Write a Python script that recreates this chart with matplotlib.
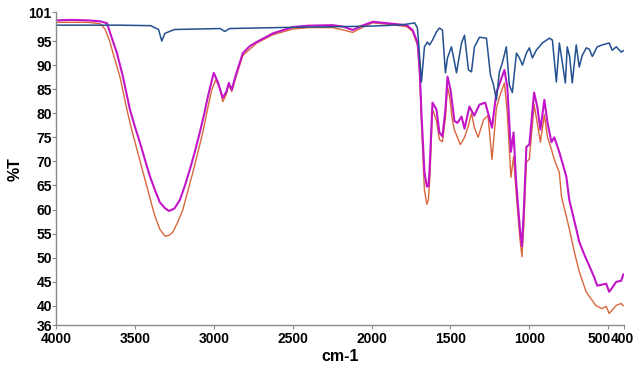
import matplotlib
matplotlib.use("Agg")
import matplotlib.pyplot as plt
import matplotlib.transforms as mtransforms

# FTIR spectra (wavenumber cm-1, %T)
blue_wn = [4000, 3800, 3600, 3400, 3350, 3330, 3310, 3250, 3100, 2960, 2930, 2900,
           2600, 2400, 2000, 1800, 1740, 1728, 1710, 1703, 1684, 1665, 1646, 1633,
           1614, 1589, 1570, 1551, 1532, 1519, 1494, 1475, 1462, 1430, 1411, 1386,
           1367, 1348, 1316, 1272, 1247, 1228, 1209, 1190, 1171, 1146, 1127, 1108,
           1082, 1063, 1044, 1019, 1000, 981, 956, 918, 873, 854, 829, 810, 791,
           772, 760, 745, 728, 703, 684, 665, 639, 620, 601, 570, 538, 494, 475,
           449, 418, 405]
blue_t = [98.3, 98.3, 98.3, 98.2, 97.4, 95.0, 96.6, 97.4, 97.5, 97.6, 97.0, 97.6,
          97.8, 97.9, 98.1, 98.4, 98.7, 98.8, 97.8, 95.0, 86.5, 93.8, 94.8, 94.2,
          95.2, 96.9, 97.7, 97.3, 88.4, 91.5, 93.8, 90.7, 88.4, 94.6, 96.2, 89.0,
          88.6, 93.8, 95.8, 95.6, 88.0, 86.0, 82.8, 88.6, 90.5, 93.8, 85.9, 84.3,
          92.5, 91.5, 90.0, 92.5, 93.6, 91.5, 93.1, 94.6, 95.6, 95.2, 86.5, 94.6, 90.5,
          86.3, 93.8, 91.8, 86.3, 94.2, 89.6, 92.0, 93.6, 93.3, 91.8, 93.8, 94.2, 94.6, 93.1,
          93.8, 92.7, 93.0]

magenta_wn = [4000, 3900, 3800, 3720, 3677, 3650, 3614, 3576, 3532, 3500, 3468, 3435,
              3405, 3370, 3342, 3310, 3285, 3250, 3215, 3185, 3152, 3120, 3089, 3060,
              3038, 3015, 3000, 2975, 2943, 2920, 2905, 2886, 2860, 2816, 2770, 2728,
              2626, 2500, 2400, 2247, 2180, 2120, 2060, 1993, 1900, 1778, 1740, 1708,
              1695, 1684, 1665, 1650, 1640, 1633, 1614, 1589, 1570, 1551, 1532, 1519,
              1500, 1475, 1456, 1430, 1411, 1380, 1350, 1316, 1280, 1262, 1237, 1209,
              1158, 1140, 1117, 1100, 1085, 1060, 1047, 1035, 1019, 1000, 970, 950,
              930, 905, 885, 860, 842, 810, 766, 747, 703, 684, 650, 620, 590, 570,
              540, 513, 494, 470, 449, 418, 405]
magenta_t = [99.3, 99.4, 99.3, 99.1, 98.7, 96.0, 92.5, 87.6, 80.8, 77.2, 73.9, 70.2,
             66.9, 63.8, 61.5, 60.3, 59.7, 60.2, 62.0, 64.8, 68.3, 72.0, 76.0, 80.0,
             83.4, 86.5, 88.4, 86.5, 83.2, 84.5, 86.3, 84.9, 88.0, 92.5, 94.0, 94.8,
             96.6, 97.9, 98.2, 98.3, 98.0, 97.3, 98.2, 99.0, 98.7, 98.3, 97.3, 94.6,
             89.0, 80.0, 67.7, 64.8, 64.8, 68.0, 82.2, 80.8, 76.0, 75.2, 80.8, 87.6,
             84.9, 78.4, 78.0, 79.3, 76.8, 81.4, 79.5, 81.8, 82.2, 80.1, 77.0, 84.3,
             89.0, 85.5, 72.0, 76.0, 66.3, 56.0, 52.4, 60.0, 73.0, 73.5, 84.3, 81.4,
             76.6, 82.8, 78.0, 74.0, 75.0, 71.9, 66.9, 62.0, 56.0, 53.3, 50.5, 48.3, 46.0, 44.2,
             44.4, 44.6, 42.9, 44.0, 45.0, 45.2, 46.5]

orange_wn = [4000, 3800, 3720, 3690, 3660, 3639, 3595, 3551, 3520, 3487, 3455, 3424,
             3395, 3373, 3342, 3310, 3285, 3260, 3230, 3196, 3165, 3133, 3100, 3070,
             3040, 3013, 2987, 2960, 2943, 2920, 2905, 2886, 2860, 2816, 2728, 2626,
             2500, 2400, 2247, 2180, 2120, 2060, 1993, 1900, 1778, 1740, 1708, 1695,
             1684, 1665, 1650, 1640, 1630, 1614, 1589, 1570, 1551, 1532, 1519, 1505,
             1490, 1475, 1437, 1411, 1386, 1367, 1348, 1325, 1290, 1262, 1237, 1209,
             1190, 1158, 1140, 1117, 1100, 1085, 1060, 1047, 1035, 1019, 1000, 970,
             950, 930, 905, 885, 860, 842, 810, 797, 766, 747, 715, 684, 640, 580,
             540, 513, 494, 449, 418, 405]
orange_t = [98.9, 98.9, 98.6, 97.5, 95.0, 92.5, 87.6, 80.8, 76.5, 72.5, 68.5, 64.8,
            61.2, 58.6, 55.9, 54.5, 54.6, 55.3, 57.3, 60.0, 63.8, 67.7, 72.0, 76.0,
            80.8, 84.9, 87.0, 85.0, 82.4, 84.0, 86.0, 84.5, 87.5, 92.0, 94.6, 96.3,
            97.5, 97.8, 97.8, 97.3, 96.8, 97.8, 98.8, 98.5, 98.0, 97.0, 94.0, 88.0,
            78.0, 64.0, 61.1, 62.0, 67.0, 80.8, 78.5, 74.5, 74.1, 79.0, 85.5, 83.4,
            79.0, 76.5, 73.5, 75.0, 77.5, 80.0, 77.0, 75.0, 78.7, 79.5, 70.4, 81.0,
            83.4, 86.3, 80.0, 66.7, 71.0, 64.0, 54.0, 50.2, 57.0, 69.8, 70.5, 81.8,
            78.0, 74.0, 79.7, 75.0, 72.5, 70.4, 67.7, 62.8, 58.6, 56.0, 51.2, 47.1, 42.9, 40.1,
            39.4, 39.9, 38.4, 40.1, 40.5, 40.0]

x_ticks = [4000, 3500, 3000, 2500, 2000, 1500, 1000, 500, 400]
y_ticks = [36, 40, 45, 50, 55, 60, 65, 70, 75, 80, 85, 90, 95, 101]

plt.rcParams['font.family'] = ['Liberation Sans', 'DejaVu Sans']

fig = plt.figure(figsize=(6.44, 3.69), dpi=100)
ax = fig.add_axes([0.087, 0.119, 0.882, 0.848])

ax.plot(orange_wn, orange_t, color='#d8673c', lw=1.0)
ax.plot(magenta_wn, magenta_t, color='#c214c8', lw=1.5)
ax.plot(blue_wn, blue_t, color='#23508f', lw=1.1)

ax.set_xlim(4000, 400)
ax.set_ylim(36, 101)
ax.set_xticks(x_ticks)
ax.set_xticklabels([str(t) for t in x_ticks])
ax.set_yticks(y_ticks)
ax.set_yticklabels([str(t) for t in y_ticks])

for side in ['top', 'right']:
    ax.spines[side].set_visible(False)
for side in ['left', 'bottom']:
    ax.spines[side].set_color('#8a8a8a')
    ax.spines[side].set_linewidth(1.0)
ax.tick_params(colors='#8a8a8a', length=3, width=0.8, labelcolor='black',
               labelsize=10)
for lab in ax.get_xticklabels() + ax.get_yticklabels():
    lab.set_fontweight('bold')
ax.tick_params(axis='x', pad=2)
ax.tick_params(axis='y', pad=0)

# "500" and "400" sit side by side as "500400"
xl = ax.get_xticklabels()
xl[-2].set_horizontalalignment('right')
xl[-2].set_transform(xl[-2].get_transform() +
                     mtransforms.ScaledTranslation(3 / 100, 0, fig.dpi_scale_trans))
xl[-1].set_horizontalalignment('left')
xl[-1].set_transform(xl[-1].get_transform() +
                     mtransforms.ScaledTranslation(-13 / 100, 0, fig.dpi_scale_trans))

ax.set_xlabel('cm-1', fontsize=11.5, fontweight='bold', labelpad=2)
ax.set_ylabel('%T', fontsize=11.5, fontweight='bold', labelpad=4)

fig.savefig('out.png', dpi=100)
